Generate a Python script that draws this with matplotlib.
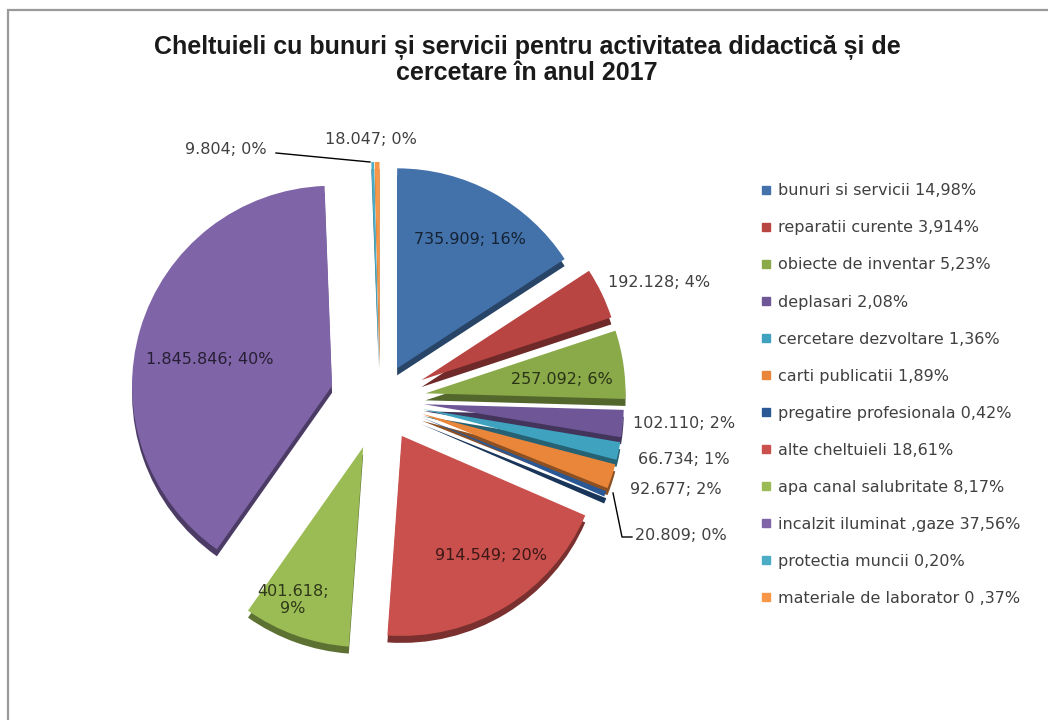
import matplotlib
matplotlib.use("Agg")
import matplotlib.pyplot as plt
from matplotlib.lines import Line2D
from matplotlib.patches import Rectangle
from matplotlib import font_manager
import matplotlib.colors as mcolors

# data
categories = ["bunuri si servicii 14,98%", "reparatii curente 3,914%",
              "obiecte de inventar 5,23%", "deplasari 2,08%",
              "cercetare dezvoltare 1,36%", "carti publicatii 1,89%",
              "pregatire profesionala 0,42%", "alte cheltuieli 18,61%",
              "apa canal salubritate 8,17%", "incalzit iluminat ,gaze 37,56%",
              "protectia muncii 0,20%", "materiale de laborator 0 ,37%"]
values = [735909, 192128, 257092, 102110, 66734, 92677,
          20809, 914549, 401618, 1845846, 9804, 18047]

colors = ["#4372AA", "#B84542", "#8AAA4A", "#6F5797", "#3FA3BF", "#E9863A",
          "#2A5894", "#C9504C", "#9BBC55", "#7F64A8", "#4BACC6", "#F79646"]
explode = [0.18, 0.23, 0.23, 0.22, 0.22, 0.22, 0.22, 0.21, 0.25, 0.25, 0.19, 0.19]

# label placement in reference pixels (x, y), inside flag
label_pos = [(470, 240, True), (608, 283, False), (562, 380, True),
             (633, 423, False), (638, 460, False), (630, 490, False),
             (635, 535, False), (491, 555, True), (293, 600, True),
             (210, 360, True), (185, 150, False), (325, 139, False)]

W, H = 1048, 720
plt.rcParams['font.family'] = ['DejaVu Sans']
installed = {f.name for f in font_manager.fontManager.ttflist}
if 'Liberation Sans Narrow' in installed:
    title_font, title_size = 'Liberation Sans Narrow', 21
else:
    title_font, title_size = 'Liberation Sans', 18

fig = plt.figure(figsize=(W / 100, H / 100), dpi=100)

# pie centre at (380, 400) px, radius 200 px
ax = fig.add_axes([60 / W, 0, 640 / W, 640 / H])
ax.axis('off')

dark = [tuple(c * 0.6 for c in mcolors.to_rgb(col)) for col in colors]
ax.pie(values, colors=dark, explode=explode, startangle=90, counterclock=False,
       center=(0, -0.035), wedgeprops=dict(linewidth=0))
wedges, _ = ax.pie(values, colors=colors, explode=explode, startangle=90,
                   counterclock=False, wedgeprops=dict(linewidth=0))
ax.set_xlim(-1.6, 1.6)
ax.set_ylim(-1.6, 1.6)
ax.set_aspect('equal')

total = sum(values)
for i, v in enumerate(values):
    num = f"{v:,}".replace(",", ".")
    pct = round(100 * v / total)
    px, py, inside = label_pos[i]
    if i == 8:
        txt = f"{num};\n{pct}%"
    else:
        txt = f"{num}; {pct}%"
    if inside:
        col = tuple(c * 0.3 for c in mcolors.to_rgb(colors[i]))
        fig.text(px / W, 1 - py / H, txt, ha='center', va='center',
                 fontsize=11.5, color=col, linespacing=1.2)
    else:
        fig.text(px / W, 1 - py / H, txt, ha='left', va='center',
                 fontsize=11.5, color='#404040')

# leader lines for the tiny slices
fig.add_artist(Line2D([613 / W, 622 / W, 632 / W],
                      [1 - 493 / H, 1 - 537 / H, 1 - 537 / H],
                      color='black', lw=1))
fig.add_artist(Line2D([276 / W, 370 / W], [1 - 153 / H, 1 - 162 / H],
                      color='black', lw=1))

fig.text(527 / W, 1 - 60 / H,
         "Cheltuieli cu bunuri și servicii pentru activitatea didactică și de\n"
         "cercetare în anul 2017",
         ha='center', va='center', fontsize=title_size, fontweight='bold',
         family=title_font, color='#1a1a1a', linespacing=1.05)

handles = [Line2D([], [], marker='s', linestyle='none', markersize=6,
                  markerfacecolor=c, markeredgecolor=c) for c in colors]
fig.legend(handles, categories, loc='upper left',
           bbox_to_anchor=(752 / W, 1 - 177 / H), frameon=False,
           fontsize=11.5, labelspacing=1.38, handletextpad=0.2,
           handlelength=1.0, labelcolor='#404040', borderaxespad=0)

fig.add_artist(Rectangle((8 / W, -0.1), 1.2, (1 - 10 / H) + 0.1,
                         transform=fig.transFigure, fill=False,
                         edgecolor='#9a9a9a', lw=1.6))

fig.savefig("out.png", dpi=100)
